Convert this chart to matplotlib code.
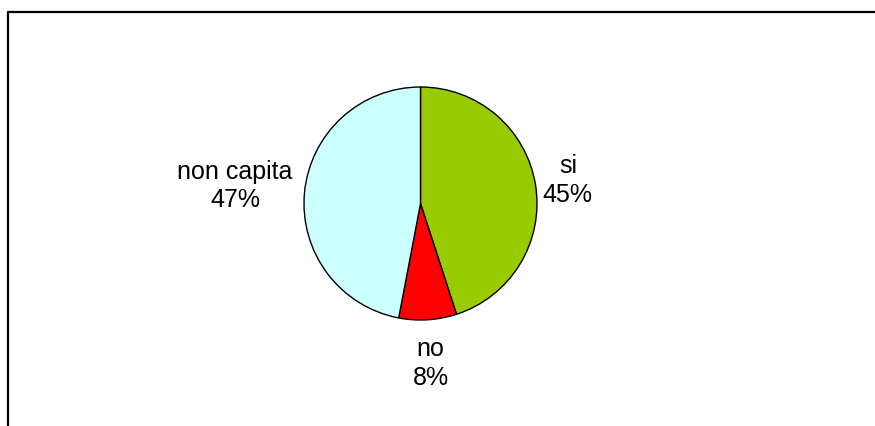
import numpy as np
import matplotlib
matplotlib.use("Agg")
import matplotlib.pyplot as plt
from matplotlib.lines import Line2D

plt.rcParams["font.family"] = ["Liberation Sans", "DejaVu Sans"]

categories = ["si", "no", "non capita"]
shares = [45, 8, 47]
colors = ["#99CC00", "#FF0000", "#CCFFFF"]

# how far each label sits from the centre, in radii
label_dist = [1.28, 1.375, 1.60]

W, H = 875, 426
fig = plt.figure(figsize=(W / 100, H / 100), dpi=100)

cx, cy, r = 420.5, 203.5, 116.5
ax = fig.add_axes([(cx - r) / W, (H - cy - r) / H, 2 * r / W, 2 * r / H])
wedges, _ = ax.pie(
    shares,
    colors=colors,
    startangle=90,
    counterclock=False,
    radius=1,
    wedgeprops=dict(edgecolor="black", linewidth=1.0),
)
ax.set_xlim(-1, 1)
ax.set_ylim(-1, 1)
ax.set_aspect("equal")
ax.axis("off")

for w, name, val, d in zip(wedges, categories, shares, label_dist):
    mid = np.deg2rad((w.theta1 + w.theta2) / 2)
    ax.text(d * np.cos(mid), d * np.sin(mid), f"{name}\n{val}%",
            ha="center", va="center", fontsize=18, linespacing=1.25,
            clip_on=False)

# chart area frame (only the top and left edges fall inside the image)
fx = 7.5 / W
fy = 1 - 11.5 / H
fig.add_artist(Line2D([fx, fx, 1.01], [-0.01, fy, fy],
                      transform=fig.transFigure, color="black", lw=1.6))

fig.savefig("out.png", dpi=100)
